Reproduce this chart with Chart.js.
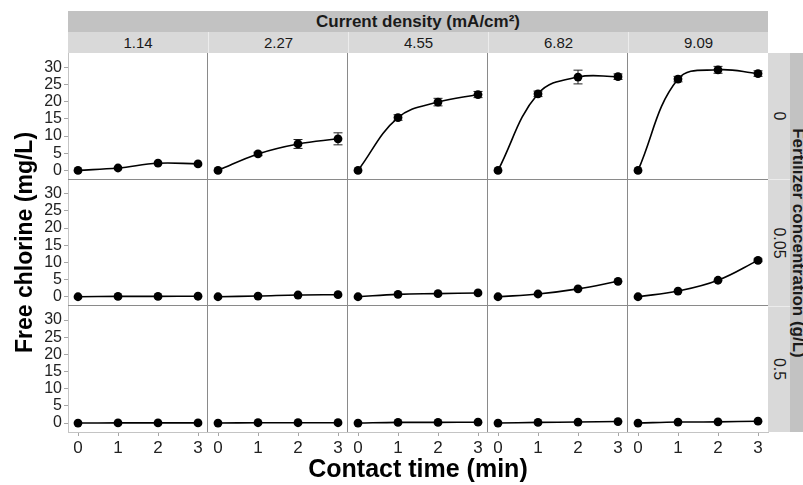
<!DOCTYPE html>
<html><head><meta charset="utf-8">
<script src="https://cdn.jsdelivr.net/npm/chart.js@4.4.0/dist/chart.umd.min.js"></script>
<style>
html,body{margin:0;padding:0;background:#fff;overflow:hidden;}
#wrap{position:relative;width:803px;height:485px;overflow:hidden;font-family:"Liberation Sans",Arial,Helvetica,sans-serif;}
#c{position:absolute;left:0;top:0;}
.strip{position:absolute;display:flex;align-items:center;justify-content:center;color:#1a1a1a;box-sizing:border-box;white-space:nowrap;}
.rot{display:inline-block;transform:rotate(90deg);white-space:nowrap;}
#xtitle{position:absolute;left:68px;width:700px;top:453px;line-height:30px;text-align:center;font-weight:bold;font-size:25px;color:#000;white-space:nowrap;}
</style></head><body>
<div id="wrap"><canvas id="c" width="803" height="485"></canvas></div>
<script>
// ---- data ----
const contactTime = [0, 1, 2, 3];
const currentDensity = ['1.14', '2.27', '4.55', '6.82', '9.09'];
const fertilizerConc = ['0', '0.05', '0.5'];
const xTickValues = [0, 1, 2, 3];
const yTickValues = [0, 5, 10, 15, 20, 25, 30];
const colTitle = 'Current density (mA/cm²)';
const rowTitle = 'Fertilizer concentration (g/L)';
const xTitle = 'Contact time (min)';
const yTitle = 'Free chlorine (mg/L)';

// free chlorine (mg/L), one inner array per current density
const chlorineF0   = [[0, 0.7, 2.1, 1.9], [0, 4.8, 7.7, 9.2], [0, 15.4, 19.9, 22.1], [0, 22.3, 27.2, 27.3], [0, 26.6, 29.3, 28.2]];
const errorF0      = [[0, 0, 0, 0], [0, 0.5, 1.3, 1.75], [0, 0.8, 1.1, 0.9], [0, 0.8, 2.0, 0.8], [0, 0.8, 1.0, 0.8]];
const chlorineF005 = [[0, 0.1, 0.1, 0.15], [0, 0.2, 0.5, 0.6], [0, 0.7, 0.9, 1.1], [0, 0.8, 2.3, 4.5], [0, 1.65, 4.8, 10.6]];
const errorF005    = [[0, 0, 0, 0], [0, 0, 0, 0], [0, 0, 0, 0], [0, 0, 0, 0], [0, 0, 0, 0.4]];
const chlorineF05  = [[0, 0.05, 0.05, 0.05], [0, 0.1, 0.1, 0.1], [0, 0.2, 0.2, 0.25], [0, 0.2, 0.3, 0.45], [0, 0.3, 0.35, 0.55]];
const errorF05     = [[0, 0, 0, 0], [0, 0, 0, 0], [0, 0, 0, 0], [0, 0, 0, 0], [0, 0, 0, 0]];

const rowsData = [chlorineF0, chlorineF005, chlorineF05];
const rowsErr = [errorF0, errorF005, errorF05];

const FONT = '"Liberation Sans", Arial, Helvetica, sans-serif';

// ---- datasets ----
const datasets = [];
rowsData.forEach((rowVals, r) => {
  rowVals.forEach((vals, c) => {
    datasets.push({
      label: 'F ' + fertilizerConc[r] + ' / J ' + currentDensity[c],
      data: contactTime.map((t, i) => ({x: t, y: vals[i]})),
      errors: rowsErr[r][c],
      xAxisID: 'x' + c,
      yAxisID: 'y' + r,
      borderColor: '#000',
      backgroundColor: '#000',
      borderWidth: 1.6,
      pointRadius: 4.4,
      pointHoverRadius: 4.4,
      pointBorderWidth: 0,
      pointBackgroundColor: '#000',
      tension: 0.4,
      fill: false,
      clip: false
    });
  });
});

// ---- scales ----
const scales = {};
currentDensity.forEach((d, c) => {
  scales['x' + c] = {
    type: 'linear', position: 'bottom', stack: 'cols', min: -0.25, max: 3.25,
    afterBuildTicks: a => { a.ticks = xTickValues.map(v => ({value: v})); },
    afterFit: a => { a.height = 53; },
    ticks: {color: '#222', font: {family: FONT, size: 17}, padding: 2, maxRotation: 0, autoSkip: false},
    grid: {display: true, drawOnChartArea: false, drawTicks: true, tickLength: 4, color: '#a6a6a6'},
    border: {display: true, color: '#c4c4c4', width: 1},
    title: {display: false}
  };
});
fertilizerConc.forEach((f, r) => {
  scales['y' + r] = {
    type: 'linear', position: 'left', stack: 'rows', weight: fertilizerConc.length - r,
    min: -2.6, max: 34.2,
    afterBuildTicks: a => { a.ticks = yTickValues.map(v => ({value: v})); },
    afterFit: a => { a.width = 68; },
    ticks: {color: '#222', font: {family: FONT, size: 16}, padding: 2, autoSkip: false},
    grid: {display: true, drawOnChartArea: false, drawTicks: true, tickLength: 4, color: '#a6a6a6'},
    border: {display: true, color: '#c4c4c4', width: 1},
    title: r === 1 ? {display: true, text: yTitle, color: '#000', font: {family: FONT, size: 23, weight: 'bold'}, padding: {top: 12, bottom: 0}} : {display: false}
  };
});

// ---- plugins ----
const panelLines = {
  id: 'panelLines',
  beforeDatasetsDraw(chart) {
    const ctx = chart.ctx, area = chart.chartArea;
    ctx.save();
    ctx.strokeStyle = '#8a8a8a';
    ctx.lineWidth = 1;
    ctx.beginPath();
    currentDensity.forEach((d, c) => {
      const s = chart.scales['x' + c];
      if (s.left > area.left + 1) {
        const x = Math.round(s.left) - 0.5;
        ctx.moveTo(x, area.top); ctx.lineTo(x, area.bottom);
      }
    });
    fertilizerConc.forEach((f, r) => {
      const s = chart.scales['y' + r];
      if (s.top > area.top + 1) {
        const y = Math.floor(s.top) + 0.5;
        ctx.moveTo(area.left, y); ctx.lineTo(area.right, y);
      }
    });
    ctx.stroke();
    ctx.restore();
  }
};
const errorBars = {
  id: 'errorBars',
  beforeDatasetsDraw(chart) {
    const ctx = chart.ctx;
    ctx.save();
    ctx.strokeStyle = '#222';
    ctx.lineWidth = 1;
    chart.data.datasets.forEach(ds => {
      const xs = chart.scales[ds.xAxisID], ys = chart.scales[ds.yAxisID];
      ds.data.forEach((p, i) => {
        const e = ds.errors[i];
        if (!e) return;
        const x = xs.getPixelForValue(p.x);
        const y1 = ys.getPixelForValue(p.y + e), y2 = ys.getPixelForValue(p.y - e);
        ctx.beginPath();
        ctx.moveTo(x, y1); ctx.lineTo(x, y2);
        ctx.moveTo(x - 4.5, y1); ctx.lineTo(x + 4.5, y1);
        ctx.moveTo(x - 4.5, y2); ctx.lineTo(x + 4.5, y2);
        ctx.stroke();
      });
    });
    ctx.restore();
  }
};

const chart = new Chart(document.getElementById('c'), {
  type: 'line',
  data: {datasets},
  options: {
    responsive: false,
    animation: false,
    events: [],
    layout: {padding: {top: 53, right: 35, left: 0, bottom: 0}},
    plugins: {legend: {display: false}, tooltip: {enabled: false}, title: {display: false}},
    scales
  },
  plugins: [panelLines, errorBars]
});

// ---- strips (HTML text) ----
const wrap = document.getElementById('wrap');
function addDiv(cls, style, html) {
  const d = document.createElement('div');
  d.className = cls;
  Object.assign(d.style, style);
  d.innerHTML = html;
  wrap.appendChild(d);
  return d;
}
const A = chart.chartArea;
addDiv('strip', {left: A.left + 'px', top: '11px', width: (A.right - A.left) + 'px', height: '21px', background: '#c2c2c2', fontWeight: 'bold', fontSize: '17px'}, colTitle);
currentDensity.forEach((d, c) => {
  const s = chart.scales['x' + c];
  addDiv('strip', {left: s.left + 'px', top: '32px', width: s.width + 'px', height: '21px', background: '#d9d9d9', fontSize: '15px', borderLeft: c > 0 ? '1px solid #ececec' : 'none'}, d);
});
fertilizerConc.forEach((f, r) => {
  const s = chart.scales['y' + r];
  addDiv('strip', {left: A.right + 'px', top: s.top + 'px', width: '22px', height: s.height + 'px', background: '#d9d9d9', fontSize: '16px', borderTop: r > 0 ? '1px solid #ececec' : 'none'}, '<span class="rot">' + f + '</span>');
});
addDiv('strip', {left: (A.right + 22) + 'px', top: A.top + 'px', width: '16px', height: (A.bottom - A.top) + 'px', background: '#c2c2c2', fontWeight: 'bold', fontSize: '17px', overflow: 'visible'}, '<span class="rot">' + rowTitle + '</span>');
const xt = document.createElement('div');
xt.id = 'xtitle';
xt.textContent = xTitle;
wrap.appendChild(xt);
</script>
</body></html>
